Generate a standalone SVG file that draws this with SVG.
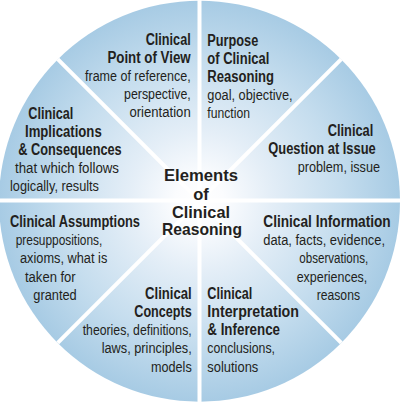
<svg xmlns="http://www.w3.org/2000/svg" width="400" height="403" viewBox="0 0 400 403">
<defs>
<radialGradient id="bg" cx="199.5" cy="201" r="200.5" gradientUnits="userSpaceOnUse">
<stop offset="0" stop-color="#ffffff"/>
<stop offset="0.12" stop-color="#fbfcfe"/>
<stop offset="0.35" stop-color="#e4eef7"/>
<stop offset="0.7" stop-color="#c5ddee"/>
<stop offset="1" stop-color="#a7cbe4"/>
</radialGradient>
<style>
text{fill:#231f20;font-family:"Liberation Sans",Arial,sans-serif}
.b{font-weight:bold;font-size:16px}
.r{font-size:15.5px}
.c{font-weight:bold;font-size:16.5px;text-anchor:middle}
.div{stroke:#ffffff;stroke-width:4;fill:none}
</style>
</defs>
<rect width="400" height="403" fill="#ffffff"/>
<circle cx="199.5" cy="201.2" r="200.5" fill="url(#bg)"/>
<g id="dividers">
<line class="div" x1="199.5" y1="201" x2="199.5" y2="-2"/>
<line class="div" x1="199.5" y1="201" x2="199.5" y2="404"/>
<line class="div" x1="199.5" y1="200.5" x2="-2" y2="200.5"/>
<line class="div" x1="199.5" y1="200.5" x2="402" y2="200.5"/>
<line class="div" x1="199.5" y1="201" x2="341.3" y2="59.2"/>
<line class="div" x1="199.5" y1="201" x2="57.7" y2="59.2"/>
<line class="div" x1="199.5" y1="201" x2="341.3" y2="342.8"/>
<line class="div" x1="199.5" y1="201" x2="57.7" y2="342.8"/>
</g>
<g id="center">
<text class="c" x="201" y="181" textLength="74" lengthAdjust="spacingAndGlyphs">Elements</text>
<text class="c" x="201" y="199.5">of</text>
<text class="c" x="201" y="217.5" textLength="58" lengthAdjust="spacingAndGlyphs">Clinical</text>
<text class="c" x="202" y="235" textLength="80" lengthAdjust="spacingAndGlyphs">Reasoning</text>
</g>
<g id="point-of-view">
<text class="b" x="145.7" y="45.3" textLength="45" lengthAdjust="spacingAndGlyphs">Clinical</text>
<text class="b" x="107.4" y="63.3" textLength="83.3" lengthAdjust="spacingAndGlyphs">Point of View</text>
<text class="r" x="85" y="81.3" textLength="105.7" lengthAdjust="spacingAndGlyphs">frame of reference,</text>
<text class="r" x="124" y="99.3" textLength="66.7" lengthAdjust="spacingAndGlyphs">perspective,</text>
<text class="r" x="129.4" y="117.3" textLength="61.3" lengthAdjust="spacingAndGlyphs">orientation</text>
</g>
<g id="purpose">
<text class="b" x="207.3" y="46" textLength="51" lengthAdjust="spacingAndGlyphs">Purpose</text>
<text class="b" x="207.3" y="64" textLength="62" lengthAdjust="spacingAndGlyphs">of Clinical</text>
<text class="b" x="207.3" y="82" textLength="66.7" lengthAdjust="spacingAndGlyphs">Reasoning</text>
<text class="r" x="207.3" y="100" textLength="85.3" lengthAdjust="spacingAndGlyphs">goal, objective,</text>
<text class="r" x="207.3" y="118" textLength="42.7" lengthAdjust="spacingAndGlyphs">function</text>
</g>
<g id="question">
<text class="b" x="327.7" y="135.7" textLength="45.6" lengthAdjust="spacingAndGlyphs">Clinical</text>
<text class="b" x="268.3" y="153.8" textLength="107.4" lengthAdjust="spacingAndGlyphs">Question at Issue</text>
<text class="r" x="297.7" y="172" textLength="82.3" lengthAdjust="spacingAndGlyphs">problem, issue</text>
</g>
<g id="information">
<text class="b" x="263.3" y="226.7" textLength="127.4" lengthAdjust="spacingAndGlyphs">Clinical Information</text>
<text class="r" x="263.3" y="245" textLength="121.7" lengthAdjust="spacingAndGlyphs">data, facts, evidence,</text>
<text class="r" x="299.3" y="263.3" textLength="69" lengthAdjust="spacingAndGlyphs">observations,</text>
<text class="r" x="296.7" y="281.6" textLength="70.6" lengthAdjust="spacingAndGlyphs">experiences,</text>
<text class="r" x="316.7" y="299.5" textLength="43.3" lengthAdjust="spacingAndGlyphs">reasons</text>
</g>
<g id="interpretation">
<text class="b" x="207.3" y="299" textLength="45" lengthAdjust="spacingAndGlyphs">Clinical</text>
<text class="b" x="207.3" y="317" textLength="91.7" lengthAdjust="spacingAndGlyphs">Interpretation</text>
<text class="b" x="207.3" y="335" textLength="72.7" lengthAdjust="spacingAndGlyphs">&amp; Inference</text>
<text class="r" x="207.3" y="353.3" textLength="67.7" lengthAdjust="spacingAndGlyphs">conclusions,</text>
<text class="r" x="207.3" y="371.6" textLength="51" lengthAdjust="spacingAndGlyphs">solutions</text>
</g>
<g id="concepts">
<text class="b" x="145" y="299" textLength="46.7" lengthAdjust="spacingAndGlyphs">Clinical</text>
<text class="b" x="134.3" y="317" textLength="57.4" lengthAdjust="spacingAndGlyphs">Concepts</text>
<text class="r" x="82.7" y="335" textLength="109" lengthAdjust="spacingAndGlyphs">theories, definitions,</text>
<text class="r" x="101.7" y="353.3" textLength="90" lengthAdjust="spacingAndGlyphs">laws, principles,</text>
<text class="r" x="151" y="371.6" textLength="40.7" lengthAdjust="spacingAndGlyphs">models</text>
</g>
<g id="assumptions">
<text class="b" x="10" y="226.7" textLength="130" lengthAdjust="spacingAndGlyphs">Clinical Assumptions</text>
<text class="r" x="15.7" y="245" textLength="86.6" lengthAdjust="spacingAndGlyphs">presuppositions,</text>
<text class="r" x="20" y="263.3" textLength="87.3" lengthAdjust="spacingAndGlyphs">axioms, what is</text>
<text class="r" x="25" y="281.6" textLength="50.7" lengthAdjust="spacingAndGlyphs">taken for</text>
<text class="r" x="33.3" y="299.5" textLength="43.4" lengthAdjust="spacingAndGlyphs">granted</text>
</g>
<g id="implications">
<text class="b" x="28.3" y="119.3" textLength="45" lengthAdjust="spacingAndGlyphs">Clinical</text>
<text class="b" x="25" y="137.3" textLength="76.7" lengthAdjust="spacingAndGlyphs">Implications</text>
<text class="b" x="18.3" y="155.3" textLength="103.4" lengthAdjust="spacingAndGlyphs">&amp; Consequences</text>
<text class="r" x="15" y="173.3" textLength="104" lengthAdjust="spacingAndGlyphs">that which follows</text>
<text class="r" x="10" y="191.3" textLength="89" lengthAdjust="spacingAndGlyphs">logically, results</text>
</g>
</svg>
